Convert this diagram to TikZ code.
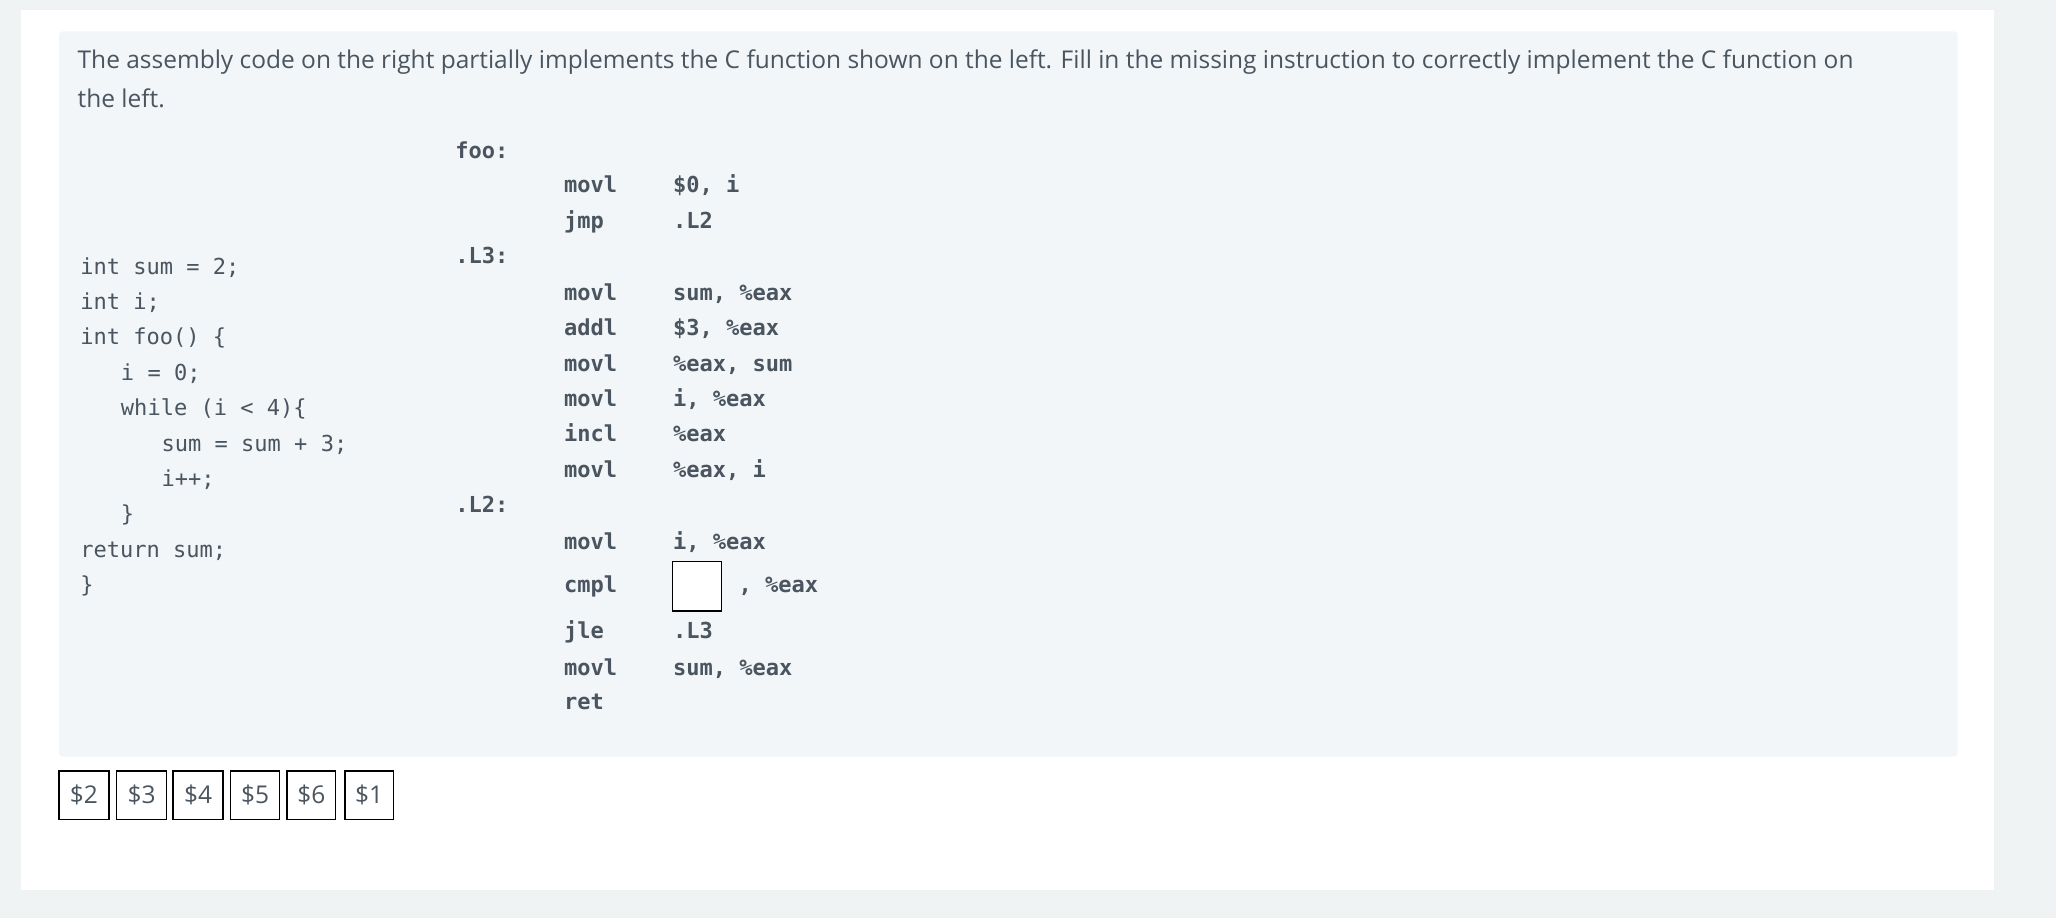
\documentclass[tikz,border=0pt]{standalone}
\usepackage{fontspec}
\setmainfont{Open Sans}
\newfontfamily\codefont{DejaVu Sans Mono}
\definecolor{txt}{HTML}{4A555F}
\definecolor{outerbg}{HTML}{EFF3F4}
\definecolor{panel}{HTML}{F2F6F9}
\begin{document}
\begin{tikzpicture}[x=0.75pt,y=-0.75pt,
  prose/.style={anchor=base west,inner sep=0,text=txt,font=\fontsize{14}{16}\selectfont},
  ccode/.style={anchor=base west,inner sep=0,text=txt,font=\codefont\fontsize{12.6}{14}\selectfont},
  asm/.style={anchor=base west,inner sep=0,text=txt,font=\codefont\bfseries\fontsize{12.6}{14}\selectfont},
  ansbox/.style={draw=black,line width=0.8pt,minimum width=28.5pt,minimum height=27.75pt,inner sep=0,text=txt,font=\fontsize{14}{16}\selectfont}]
\useasboundingbox (0,0) rectangle (1568,700);
\fill[outerbg] (0,0) rectangle (1568,700);
\fill[white] (16,8) rectangle (1521,679);
\fill[panel,rounded corners=2pt] (45,24) rectangle (1493,577);
\node[prose] (p1) at (59,52) {The assembly code on the right partially implements the C function shown on the left. Fill in the missing instruction to correctly implement the C function on};
\node[prose] (p2) at (59,82) {the left.};
% C code
\node[ccode] (c1) at (61,209) {int sum = 2;};
\node[ccode] (c2) at (61,236) {int i;};
\node[ccode] (c3) at (61,263) {int foo() \{};
\node[ccode] (c4) at (92,290) {i = 0;};
\node[ccode] (c5) at (92,317) {while (i < 4)\{};
\node[ccode] (c6) at (123,344) {sum = sum + 3;};
\node[ccode] (c7) at (123,371) {i++;};
\node[ccode] (c8) at (92,398) {\}};
\node[ccode] (c9) at (61,425) {return sum;};
\node[ccode] (c10) at (61,452) {\}};
% assembly
\node[asm] (lfoo) at (347,121) {foo:};
\node[asm] (l3) at (347,201) {.L3:};
\node[asm] (l2) at (347,391) {.L2:};
\foreach \y/\a/\b [count=\i] in {147/movl/{\$0, i},174/jmp/.L2,229/movl/{sum, \%eax},256/addl/{\$3, \%eax},283/movl/{\%eax, sum},310/movl/{i, \%eax},337/incl/\%eax,364/movl/{\%eax, i},419/movl/{i, \%eax},487/jle/.L3,515/movl/{sum, \%eax},541/ret/{}}{
  \node[asm] (ins\i) at (430,\y) {\a};
  \node[asm] (op\i) at (513,\y) {\b};
}
\node[asm] (cmpl) at (430,452) {cmpl};
\node[draw=black,fill=white,line width=0.7pt,minimum width=28pt,minimum height=28.5pt,inner sep=0] (blank) at (531.5,447) {};
\node[asm] (cmpop) at (563,452) {, \%eax};
% answer boxes
\foreach \xa/\xb/\t [count=\i] in {45/83/2,89/127/3,132/170/4,176/213/5,219/256/6,263/300/1}{
  \node[ansbox,minimum width={(\xb-\xa)*0.75pt}] (ans\i) at ({(\xa+\xb)/2},606.5) {\$\t};
}
\end{tikzpicture}
\end{document}
